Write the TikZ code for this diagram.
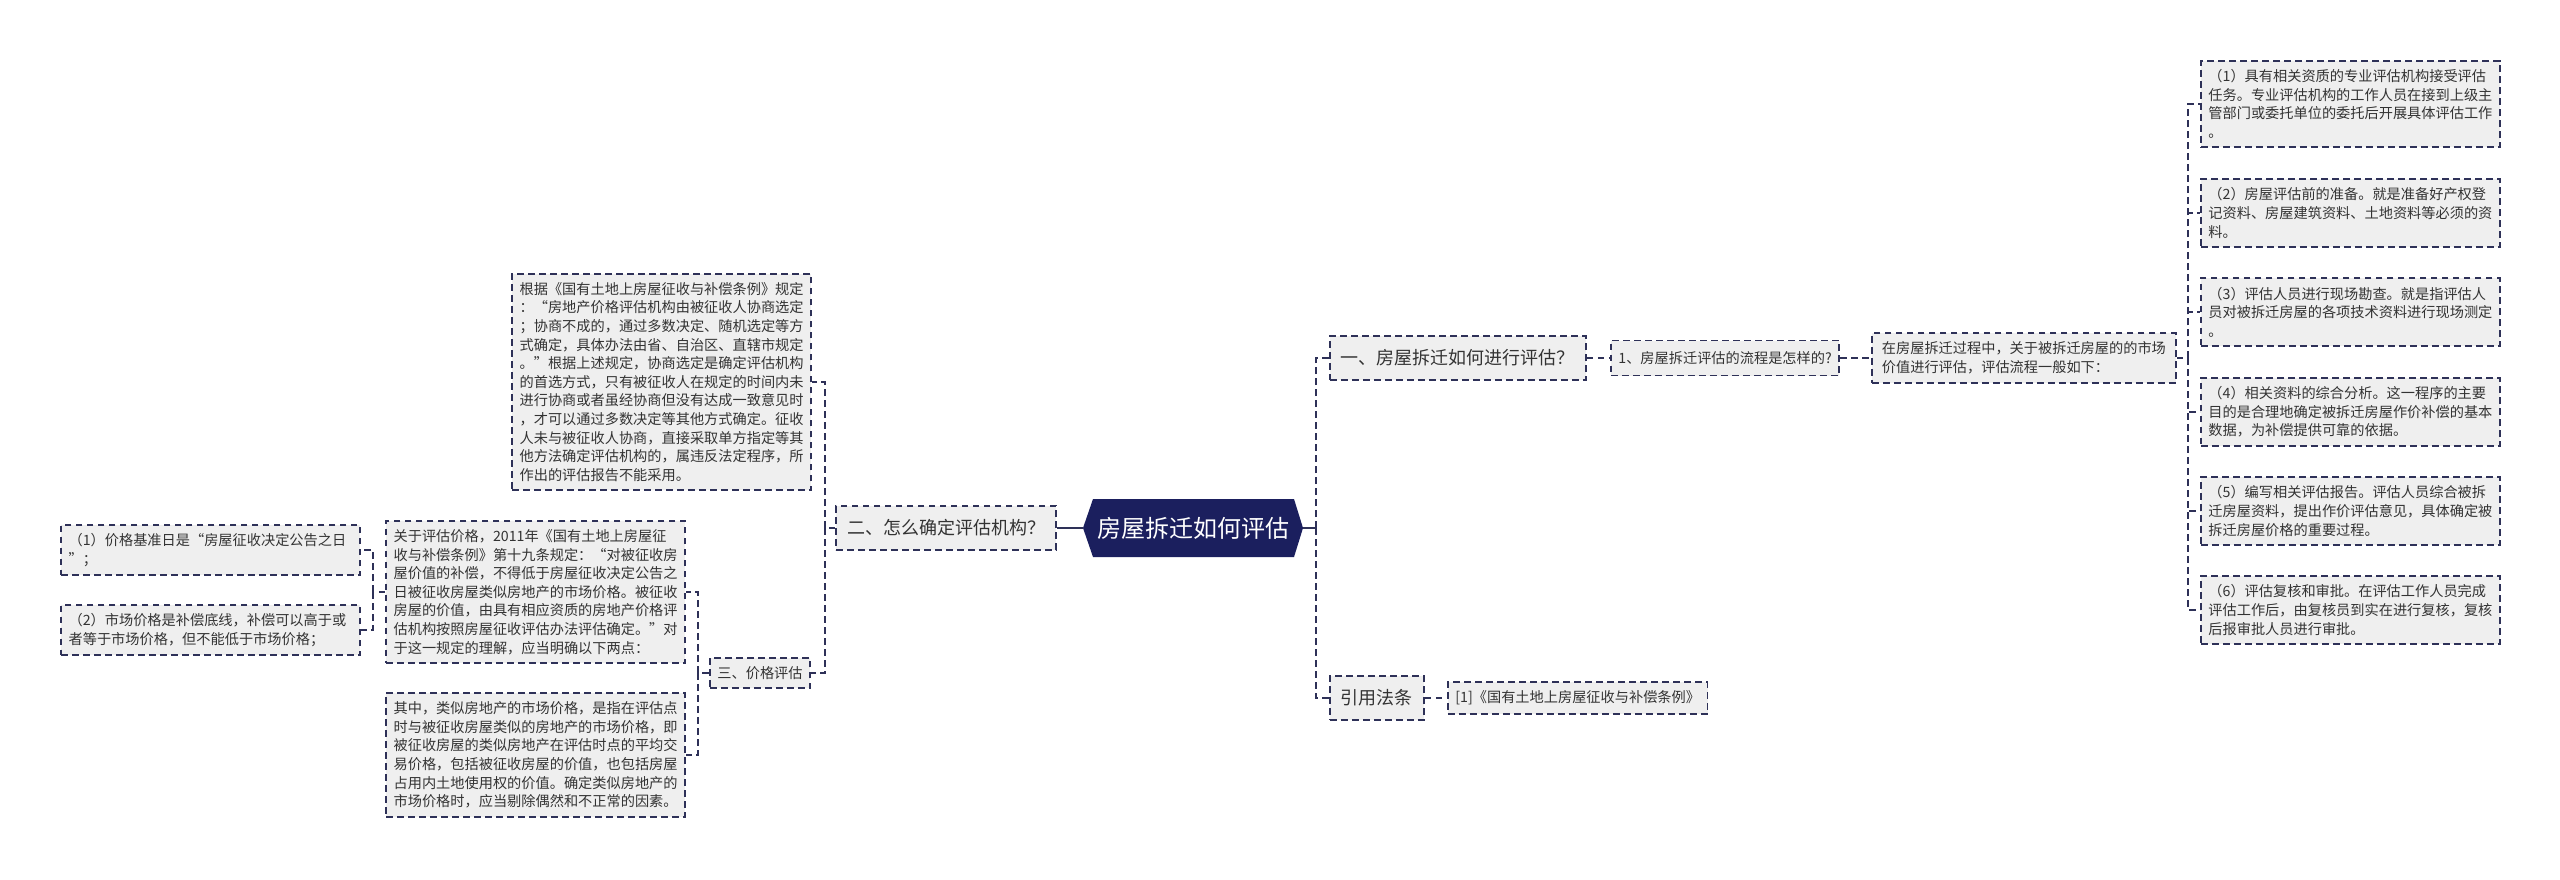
\documentclass[tikz,border=0pt]{standalone}
\usepackage{fontspec}
\setmainfont{Noto Sans CJK SC}

\definecolor{rootblue}{HTML}{1B1F5E}
\definecolor{edgeblue}{HTML}{2E3158}
\definecolor{boxgray}{HTML}{EFEFEF}
\definecolor{txtgray}{HTML}{333333}

\tikzset{
  every node/.style={text=txtgray},
  leaf/.style={draw=edgeblue, fill=boxgray, dash pattern=on 3.3pt off 2.2pt,
    line width=0.9pt, font=\fontsize{7.1pt}{9.3pt}\selectfont,
    inner xsep=3.75pt, inner ysep=4.3pt, align=left},
  leafw/.style={leaf, text width=142pt},
  topic/.style={leaf, font=\fontsize{9pt}{11pt}\selectfont, inner xsep=5.5pt,
    minimum height=22pt},
  link/.style={draw=edgeblue, dash pattern=on 3.3pt off 2.2pt, line width=0.9pt},
  solidlink/.style={draw=edgeblue, line width=0.9pt}
}

\begin{document}
\begin{tikzpicture}[x=0.5pt,y=-0.5pt]
  \useasboundingbox (0,0) rectangle (2560,879);
  % centre topic
  \fill[rootblue] (1083,528) -- (1093,499) -- (1294,499) -- (1303,528)
    -- (1294,557) -- (1093,557) -- cycle;
  \node[text=white, font=\fontsize{12pt}{14pt}\selectfont, inner sep=0pt,
    minimum width=110pt, minimum height=29pt] (root) at (1193,528) {房屋拆迁如何评估};

  % right branch
  \node[topic, anchor=west] (q1) at (1329,358) {一、房屋拆迁如何进行评估？};
  \node[leaf, anchor=west, minimum height=17.5pt] (q1a) at (1610,358) {1、房屋拆迁评估的流程是怎样的?};
  \node[leafw, anchor=west, inner xsep=5pt] (flow) at (1871,358) {在房屋拆迁过程中，关于被拆迁房屋的的市场\\价值进行评估，评估流程一般如下：};
  \node[leafw, anchor=west] (s1) at (2200,104) {（1）具有相关资质的专业评估机构接受评估\\任务。专业评估机构的工作人员在接到上级主\\管部门或委托单位的委托后开展具体评估工作\\。};
  \node[leafw, anchor=west] (s2) at (2200,213) {（2）房屋评估前的准备。就是准备好产权登\\记资料、房屋建筑资料、土地资料等必须的资\\料。};
  \node[leafw, anchor=west] (s3) at (2200,312) {（3）评估人员进行现场勘查。就是指评估人\\员对被拆迁房屋的各项技术资料进行现场测定\\。};
  \node[leafw, anchor=west] (s4) at (2200,412) {（4）相关资料的综合分析。这一程序的主要\\目的是合理地确定被拆迁房屋作价补偿的基本\\数据，为补偿提供可靠的依据。};
  \node[leafw, anchor=west] (s5) at (2200,511) {（5）编写相关评估报告。评估人员综合被拆\\迁房屋资料，提出作价评估意见，具体确定被\\拆迁房屋价格的重要过程。};
  \node[leafw, anchor=west] (s6) at (2200,610) {（6）评估复核和审批。在评估工作人员完成\\评估工作后，由复核员到实在进行复核，复核\\后报审批人员进行审批。};
  \node[topic, anchor=west] (law) at (1329,698) {引用法条};
  \node[leaf, anchor=west] (law1) at (1447,698) {[1]《国有土地上房屋征收与补偿条例》};

  % left branch
  \node[topic, anchor=east] (q2) at (1057,528) {二、怎么确定评估机构？};
  \node[leafw, anchor=east] (rule) at (812,382) {根据《国有土地上房屋征收与补偿条例》规定\\：“房地产价格评估机构由被征收人协商选定\\；协商不成的，通过多数决定、随机选定等方\\式确定，具体办法由省、自治区、直辖市规定\\。”根据上述规定，协商选定是确定评估机构\\的首选方式，只有被征收人在规定的时间内未\\进行协商或者虽经协商但没有达成一致意见时\\，才可以通过多数决定等其他方式确定。征收\\人未与被征收人协商，直接采取单方指定等其\\他方法确定评估机构的，属违反法定程序，所\\作出的评估报告不能采用。};
  \node[leaf, anchor=east] (q3) at (811,673) {三、价格评估};
  \node[leafw, anchor=east] (price) at (686,592) {关于评估价格，2011年《国有土地上房屋征\\收与补偿条例》第十九条规定：“对被征收房\\屋价值的补偿，不得低于房屋征收决定公告之\\日被征收房屋类似房地产的市场价格。被征收\\房屋的价值，由具有相应资质的房地产价格评\\估机构按照房屋征收评估办法评估确定。”对\\于这一规定的理解，应当明确以下两点：};
  \node[leafw, anchor=east] (similar) at (686,755) {其中，类似房地产的市场价格，是指在评估点\\时与被征收房屋类似的房地产的市场价格，即\\被征收房屋的类似房地产在评估时点的平均交\\易价格，包括被征收房屋的价值，也包括房屋\\占用内土地使用权的价值。确定类似房地产的\\市场价格时，应当剔除偶然和不正常的因素。};
  \node[leafw, anchor=east] (pt1) at (361,550) {（1）价格基准日是“房屋征收决定公告之日\\”；};
  \node[leafw, anchor=east] (pt2) at (361,630) {（2）市场价格是补偿底线，补偿可以高于或\\者等于市场价格，但不能低于市场价格；};

  % connectors
  \coordinate (rbus) at (1316,528);
  \draw[solidlink] (root.east) -- (rbus);
  \draw[link] (rbus) |- (q1.west);
  \draw[link] (rbus) |- (law.west);
  \draw[link] (q1.east) -- (q1a.west);
  \draw[link] (q1a.east) -- (flow.west);
  \draw[link] (law.east) -- (law1.west);
  \coordinate (fbus) at (2188,358);
  \draw[link] (flow.east) -- (fbus);
  \foreach \n in {1,...,6}
    \draw[link] (fbus) |- (s\n.west);

  \draw[solidlink] (root.west) -- (q2.east);
  \coordinate (lbus) at (825,528);
  \draw[link] (q2.west) -- (lbus);
  \draw[link] (lbus) |- (rule.east);
  \draw[link] (lbus) |- (q3.east);
  \coordinate (pbus) at (698,673);
  \draw[link] (q3.west) -- (pbus);
  \draw[link] (pbus) |- (price.east);
  \draw[link] (pbus) |- (similar.east);
  \coordinate (abus) at (373,592);
  \draw[link] (price.west) -- (abus);
  \draw[link] (abus) |- (pt1.east);
  \draw[link] (abus) |- (pt2.east);
\end{tikzpicture}
\end{document}
